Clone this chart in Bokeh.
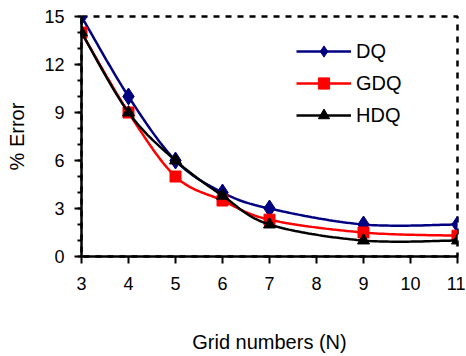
import numpy as np
from bokeh.plotting import figure
from bokeh.models import Range1d, FixedTicker
from bokeh.embed import file_html
from bokeh.resources import INLINE

grid_n = [3, 4, 5, 6, 7, 9, 11]
dq = [15, 10, 6, 4, 3, 2, 2]
gdq = [14, 9, 5, 3.5, 2.3, 1.5, 1.3]
hdq = [14, 9, 6, 3.8, 2.0, 1.0, 1.0]
x_ticks = [3, 4, 5, 6, 7, 8, 9, 10, 11]
y_ticks = [0, 3, 6, 9, 12, 15]

FONT = "Liberation Sans"


def smooth(xs, ys, n=30):
    # Excel-style smoothed line (cubic Bezier with 1/6 tension)
    x = np.asarray(xs, float)
    y = np.asarray(ys, float)
    px = np.concatenate([[x[0]], x, [x[-1]]])
    py = np.concatenate([[y[0]], y, [y[-1]]])
    outx, outy = [], []
    t = np.linspace(0, 1, n)
    for i in range(len(x) - 1):
        p0 = np.array([px[i + 1], py[i + 1]])
        p3 = np.array([px[i + 2], py[i + 2]])
        c1 = p0 + (np.array([px[i + 2], py[i + 2]]) - np.array([px[i], py[i]])) / 6
        c2 = p3 - (np.array([px[i + 3], py[i + 3]]) - np.array([px[i + 1], py[i + 1]])) / 6
        b = ((1 - t) ** 3)[:, None] * p0 + (3 * (1 - t) ** 2 * t)[:, None] * c1 \
            + (3 * (1 - t) * t ** 2)[:, None] * c2 + (t ** 3)[:, None] * p3
        outx.extend(b[:, 0])
        outy.extend(b[:, 1])
    return outx, outy


p = figure(frame_width=376, frame_height=240, output_backend="svg", toolbar_location=None,
           min_border_left=81, min_border_top=16, min_border_right=8, min_border_bottom=96,
           x_range=Range1d(3, 11), y_range=Range1d(0, 15))

p.background_fill_color = "white"
p.border_fill_color = "white"
p.grid.visible = False
p.outline_line_color = "black"
p.outline_line_width = 2.5
p.outline_line_dash = "6 6"

series = [
    ("DQ", dq, "#000080", "diamond", 17),
    ("GDQ", gdq, "#FF0000", "square", 11),
    ("HDQ", hdq, "black", "triangle", 12),
]
for name, vals, color, marker, size in series:
    sx, sy = smooth(grid_n, vals)
    p.line(sx, sy, line_color=color, line_width=2.5, legend_label=name)
    p.scatter(grid_n, vals, marker=marker, size=size, fill_color=color, line_color=color,
              legend_label=name)

for ax in (p.xaxis[0], p.yaxis[0]):
    ax.axis_line_width = 2.5
    ax.axis_line_color = "black"
    ax.major_tick_line_width = 2
    ax.minor_tick_line_width = 2
    ax.major_tick_line_color = "black"
    ax.minor_tick_line_color = "black"
    ax.major_label_text_font = FONT
    ax.major_label_text_font_size = "18px"
    ax.major_label_text_color = "black"
    ax.axis_label_text_font = FONT
    ax.axis_label_text_font_size = "20px"
    ax.axis_label_text_font_style = "normal"
    ax.axis_label_text_color = "black"

p.xaxis.ticker = FixedTicker(ticks=x_ticks)
p.xaxis.major_tick_in = 0
p.xaxis.major_tick_out = 7
p.xaxis.minor_tick_out = 0
p.xaxis.major_label_standoff = 13
p.xaxis.axis_label = "Grid numbers (N)"
p.xaxis.axis_label_standoff = 38

p.yaxis.ticker = FixedTicker(ticks=y_ticks, minor_ticks=list(range(0, 16)))
p.yaxis.major_tick_in = 0
p.yaxis.major_tick_out = 7
p.yaxis.minor_tick_in = 0
p.yaxis.minor_tick_out = 4
p.yaxis.major_label_standoff = 10
p.yaxis.axis_label = "% Error"
p.yaxis.axis_label_standoff = 13

lg = p.legend[0]
lg.location = (215, 127)
lg.border_line_color = None
lg.background_fill_alpha = 0
lg.padding = 0
lg.margin = 0
lg.spacing = 4
lg.glyph_width = 55
lg.glyph_height = 28
lg.label_height = 28
lg.label_standoff = 5
lg.label_text_font = FONT
lg.label_text_font_size = "20px"
lg.label_text_color = "black"

open("out.html", "w").write(file_html(p, INLINE))
